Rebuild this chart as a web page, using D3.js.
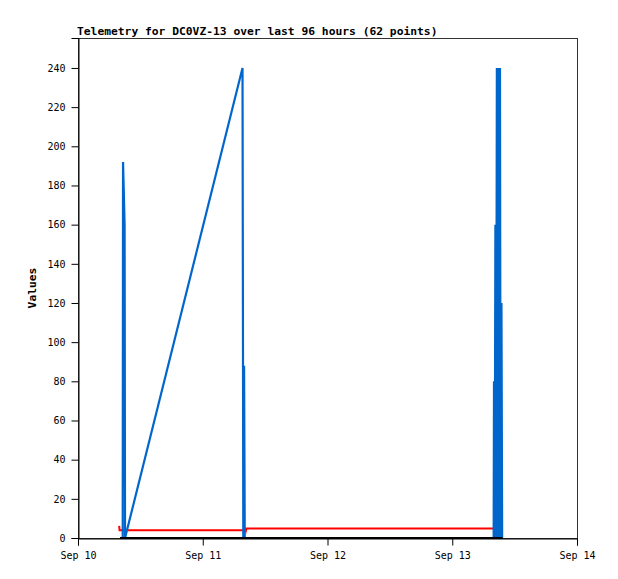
<!DOCTYPE html>
<html>
<head>
<meta charset="utf-8">
<script src="https://cdn.jsdelivr.net/npm/d3@7"></script>
<style>
  body { margin: 0; background: #fff; }
  text { font-family: "DejaVu Sans Mono", "Liberation Mono", monospace; }
</style>
</head>
<body>
<svg class="chart" width="618" height="579"></svg>
<script>
// Telemetry series
const blueSeries = [
  ["2023-09-10T08:36", 0], ["2023-09-10T08:40", 192], ["2023-09-10T08:58", 160],
  ["2023-09-10T09:03", 0], ["2023-09-11T07:39", 240], ["2023-09-11T07:48", 0],
  ["2023-09-11T07:57", 88], ["2023-09-11T08:05", 0], ["2023-09-13T07:58", 0],
  ["2023-09-13T08:02", 80], ["2023-09-13T08:10", 0], ["2023-09-13T08:18", 160],
  ["2023-09-13T08:26", 0], ["2023-09-13T08:35", 240], ["2023-09-13T08:44", 0],
  ["2023-09-13T08:53", 240], ["2023-09-13T09:02", 0], ["2023-09-13T09:11", 240],
  ["2023-09-13T09:18", 0], ["2023-09-13T09:28", 120], ["2023-09-13T09:36", 0]
];
const redSeries = [
  ["2023-09-10T07:55", 6.2], ["2023-09-10T08:00", 3.9], ["2023-09-11T08:10", 3.9],
  ["2023-09-11T08:15", 4.9], ["2023-09-11T08:20", 4.0], ["2023-09-11T08:25", 4.8],
  ["2023-09-13T08:00", 4.8]
];
const blackSeries = [
  ["2023-09-10T08:05", 0], ["2023-09-13T09:40", 0]
];
const xTicks = ["2023-09-10", "2023-09-11", "2023-09-12", "2023-09-13", "2023-09-14"];
const yTicks = [0, 20, 40, 60, 80, 100, 120, 140, 160, 180, 200, 220, 240];

const svg = d3.select(".chart");
const margin = { top: 38, right: 41, bottom: 41, left: 78 };
const width = +svg.attr("width");
const height = +svg.attr("height");
const innerWidth = width - margin.left - margin.right;
const innerHeight = height - margin.top - margin.bottom;

const parse = d3.timeParse("%Y-%m-%dT%H:%M");
const parseDay = d3.timeParse("%Y-%m-%d");

const x = d3.scaleTime()
  .domain([parseDay(xTicks[0]), parseDay(xTicks[xTicks.length - 1])])
  .range([margin.left, margin.left + innerWidth]);
const y = d3.scaleLinear()
  .domain([0, 255.3])
  .range([margin.top + innerHeight, margin.top]);

// frame
svg.append("rect")
  .attr("x", margin.left + 0.5)
  .attr("y", margin.top + 0.5)
  .attr("width", innerWidth)
  .attr("height", innerHeight)
  .attr("fill", "none")
  .attr("stroke", "#333");

const line = d3.line()
  .x(d => x(parse(d[0])))
  .y(d => y(d[1]));

svg.append("path").datum(redSeries)
  .attr("d", line).attr("fill", "none")
  .attr("stroke", "#ff0000").attr("stroke-width", 2);

svg.append("path").datum(blueSeries)
  .attr("d", line).attr("fill", "none")
  .attr("stroke", "#0066cc").attr("stroke-width", 2.2);

svg.append("path").datum(blackSeries)
  .attr("d", line).attr("fill", "none")
  .attr("stroke", "#000").attr("stroke-width", 2);

// axes
const xAxis = svg.append("g")
  .attr("transform", `translate(0,${margin.top + innerHeight + 0.5})`)
  .call(d3.axisBottom(x)
    .tickValues(xTicks.map(parseDay))
    .tickFormat(d3.timeFormat("%b %-d"))
    .tickSize(7).tickPadding(6));
xAxis.select(".domain").attr("stroke", "#000");
xAxis.selectAll("text").style("font-size", "10px").attr("fill", "#000");

const yAxis = svg.append("g")
  .attr("transform", `translate(${margin.left + 0.5},0)`)
  .call(d3.axisLeft(y).tickValues(yTicks).tickSize(7).tickPadding(6));
yAxis.select(".domain").attr("stroke", "#000");
yAxis.selectAll("text").style("font-size", "10px").attr("fill", "#000");

// title and y label
svg.append("text")
  .attr("x", margin.left - 1)
  .attr("y", 35)
  .style("font-size", "11.3px")
  .style("font-weight", "bold")
  .text("Telemetry for DC0VZ-13 over last 96 hours (62 points)");

svg.append("text")
  .attr("transform", `translate(36,${margin.top + innerHeight / 2}) rotate(-90)`)
  .attr("text-anchor", "middle")
  .style("font-size", "11.3px")
  .style("font-weight", "bold")
  .text("Values");
</script>
</body>
</html>
